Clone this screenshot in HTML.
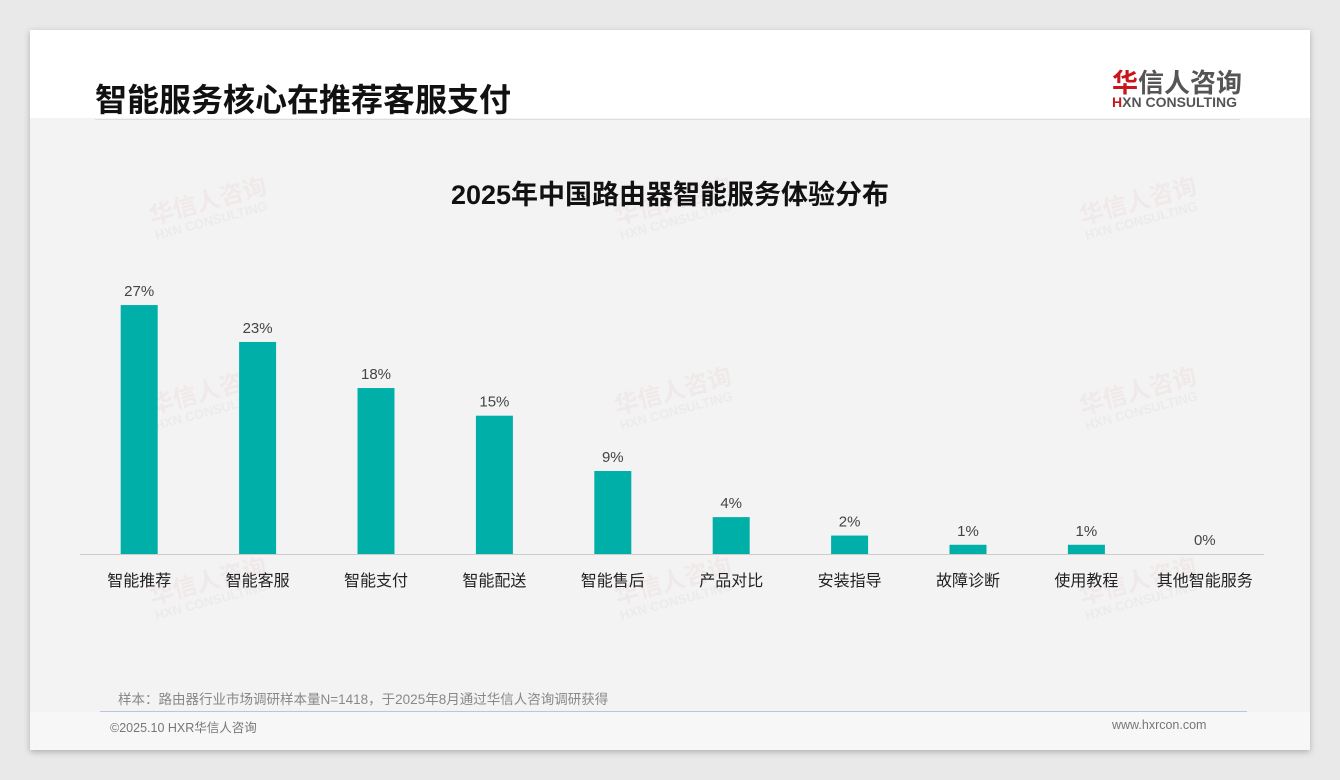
<!DOCTYPE html>
<html><head><meta charset="utf-8"><style>
body{margin:0;width:1340px;height:780px;background:#e9e9e9;font-family:"Liberation Sans","Noto Sans CJK SC",sans-serif;position:relative;overflow:hidden}
.card{position:absolute;left:30px;top:30px;width:1280px;height:720px;background:#f3f3f3;box-shadow:0 2px 6px rgba(0,0,0,.25)}
.hdr{position:absolute;left:0;top:0;width:1280px;height:88px;background:#fff}
.t{position:absolute;font-family:"Liberation Sans","Noto Sans CJK SC",sans-serif;white-space:nowrap}
.wm{position:absolute;color:rgba(200,60,60,.05);font-weight:bold;font-size:24px;transform:rotate(-15deg);white-space:nowrap;line-height:1}
.wm small{display:block;font-size:13px;color:rgba(120,120,120,.06)}
</style></head><body>
<div class="card">
<div class="hdr"></div>
<div class="t" style="left:65px;top:45px;font-size:32px;font-weight:bold;color:#111">智能服务核心在推荐客服支付</div>
<div class="t" style="left:1082px;top:33px;font-size:26px;font-weight:bold;color:#555"><span style="color:#c8161d">华</span>信人咨询</div>
<div class="t" style="left:1082px;top:64px;font-size:14px;font-weight:bold;color:#555"><span style="color:#c8161d">H</span>XN CONSULTING</div>
<div style="position:absolute;left:65px;top:89px;width:1145px;height:1px;background:#ddd"></div>
<div class="wm" style="left:120px;top:160px">华信人咨询<small>HXN CONSULTING</small></div>
<div class="wm" style="left:585px;top:160px">华信人咨询<small>HXN CONSULTING</small></div>
<div class="wm" style="left:1050px;top:160px">华信人咨询<small>HXN CONSULTING</small></div>
<div class="wm" style="left:120px;top:350px">华信人咨询<small>HXN CONSULTING</small></div>
<div class="wm" style="left:585px;top:350px">华信人咨询<small>HXN CONSULTING</small></div>
<div class="wm" style="left:1050px;top:350px">华信人咨询<small>HXN CONSULTING</small></div>
<div class="wm" style="left:120px;top:540px">华信人咨询<small>HXN CONSULTING</small></div>
<div class="wm" style="left:585px;top:540px">华信人咨询<small>HXN CONSULTING</small></div>
<div class="wm" style="left:1050px;top:540px">华信人咨询<small>HXN CONSULTING</small></div>
<div class="t" style="left:88px;top:658px;font-size:13.5px;color:#888">样本：路由器行业市场调研样本量N=1418，于2025年8月通过华信人咨询调研获得</div>
<div style="position:absolute;left:70px;top:681px;width:1147px;height:1px;background:#b8c8d8"></div>
<div style="position:absolute;left:0;top:682px;width:1280px;height:38px;background:#f7f7f7"></div>
<div class="t" style="left:80px;top:687px;font-size:12.5px;color:#777">©2025.10 HXR华信人咨询</div>
<div class="t" style="left:1082px;top:688px;font-size:12.5px;color:#777">www.hxrcon.com</div>
</div>
<svg id="chart" width="1340" height="780" style="position:absolute;left:0;top:0">
<text x="670" y="204" text-anchor="middle" font-size="27" font-weight="bold" fill="#111" font-family="Liberation Sans, Noto Sans CJK SC, sans-serif">2025年中国路由器智能服务体验分布</text>
<line x1="80" y1="554.5" x2="1264" y2="554.5" stroke="#ccc"/>
</svg>
<script>
const categories=["智能推荐","智能客服","智能支付","智能配送","智能售后","产品对比","安装指导","故障诊断","使用教程","其他智能服务"];
const values=[27,23,18,15,9,4,2,1,1,0];
const svg=document.getElementById('chart');
const NS="http://www.w3.org/2000/svg";
const x0=80,x1=1264,base=554,pxPer=9.22,bw=37;
const step=(x1-x0)/categories.length;
function xC(i){return x0+step*(i+0.5);}
function yV(v){return base-v*pxPer;}
categories.forEach((c,i)=>{
 const v=values[i];
 const r=document.createElementNS(NS,'rect');
 r.setAttribute('x',xC(i)-bw/2);r.setAttribute('y',yV(v));
 r.setAttribute('width',bw);r.setAttribute('height',base-yV(v));
 r.setAttribute('fill','#00b0a8');
 
 
 svg.appendChild(r);
 const t=document.createElementNS(NS,'text');
 t.setAttribute('x',xC(i));t.setAttribute('y',yV(v)-9);
 t.setAttribute('text-anchor','middle');t.setAttribute('font-size','15');t.setAttribute('fill','#444');
 t.setAttribute('font-family','Liberation Sans, sans-serif');
 t.textContent=v+'%';
 
 
 svg.appendChild(t);
 const l=document.createElementNS(NS,'text');
 l.setAttribute('x',xC(i));l.setAttribute('y',586);
 l.setAttribute('text-anchor','middle');l.setAttribute('font-size','16');l.setAttribute('fill','#222');
 l.setAttribute('font-family','Liberation Sans, Noto Sans CJK SC, sans-serif');
 l.textContent=c;
 
 
 svg.appendChild(l);
});
</script>
</body></html>
